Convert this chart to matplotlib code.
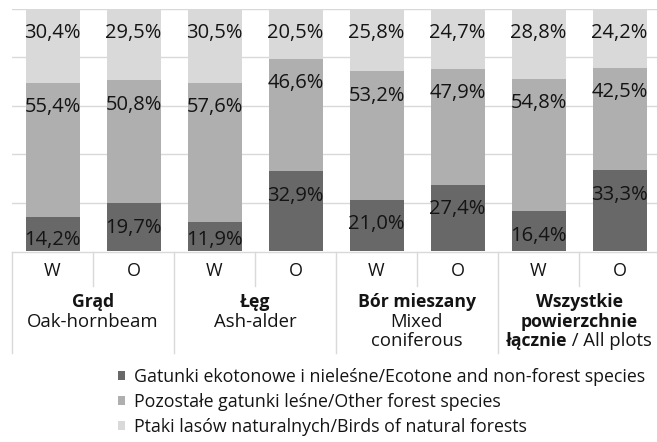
import matplotlib
matplotlib.use('Agg')
import matplotlib.pyplot as plt
from matplotlib.transforms import blended_transform_factory

# ---- data ----
sub_labels = ['W', 'O', 'W', 'O', 'W', 'O', 'W', 'O']
group_lines = [
    [('Grąd', 'bold'), ('Oak-hornbeam', 'normal')],
    [('Łęg', 'bold'), ('Ash-alder', 'normal')],
    [('Bór mieszany', 'bold'), ('Mixed', 'normal'), ('coniferous', 'normal')],
    [('Wszystkie', 'bold'), ('powierzchnie', 'bold'), ('łącznie', 'bold', ' / All plots')],
]
ecotone = [14.2, 19.7, 11.9, 32.9, 21.0, 27.4, 16.4, 33.3]
other_forest = [55.4, 50.8, 57.6, 46.6, 53.2, 47.9, 54.8, 42.5]
natural = [30.4, 29.5, 30.5, 20.5, 25.8, 24.7, 28.8, 24.2]
series_names = [
    'Gatunki ekotonowe i nieleśne/Ecotone and non-forest species',
    'Pozostałe gatunki leśne/Other forest species',
    'Ptaki lasów naturalnych/Birds of natural forests',
]
colors = ['#686868', '#afafaf', '#d9d9d9']

plt.rcParams['font.family'] = ['Open Sans', 'DejaVu Sans']
TXT = '#141414'
FS_LAB = 14.5
FS_BOLD = 12.7
FS_NORM = 13.3
FS_LEG = 12.8
W, H = 657, 442

fig = plt.figure(figsize=(W / 100, H / 100), dpi=100)
ax = fig.add_axes([12 / W, (H - 251) / H, 648 / W, 242 / H])
ax.set_xlim(-0.5, 7.5)
ax.set_ylim(0, 100)
ax.axis('off')

for yv in [20, 40, 60, 80, 100]:
    ax.axhline(yv, color='#d9d9d9', lw=1, zorder=0)

x = list(range(len(sub_labels)))
bw = 54 / 81
bottoms = [0.0] * len(x)
handles = []
for vals, col, name in zip([ecotone, other_forest, natural], colors, series_names):
    bars = ax.bar(x, vals, bw, bottom=bottoms, color=col, label=name, zorder=2)
    handles.append(bars)
    for xi, v, b in zip(x, vals, bottoms):
        top = b + v
        ylab = max(top - 10.0, 4.5)
        ax.text(xi, ylab, f'{v:.1f}%'.replace('.', ','), ha='center', va='center',
                fontsize=FS_LAB, color=TXT, zorder=3)
    bottoms = [b + v for b, v in zip(bottoms, vals)]

# ---- category table below axis ----
tr = blended_transform_factory(ax.transData, fig.transFigure)
fy = lambda py: (H - py) / H
line_col = '#d9d9d9'
ax.plot([-0.5, 8], [fy(251.5), fy(251.5)], transform=tr, color=line_col, lw=1, clip_on=False)
for k in range(0, 9):
    xb = k - 0.5
    ybot = 353 if k % 2 == 0 else 286
    ax.plot([xb, xb], [fy(251.5), fy(ybot)], transform=tr, color=line_col, lw=1, clip_on=False)

for xi, lab in zip(x, sub_labels):
    ax.text(xi, fy(271), lab, transform=tr, ha='center', va='center', fontsize=13, color=TXT)

fig.canvas.draw()
renderer = fig.canvas.get_renderer()
px_per_unit = 648 / 8
line_y = [302, 322, 341]
fsz = lambda w: FS_BOLD if w == 'bold' else FS_NORM
for gi, lines in enumerate(group_lines):
    gc = 2 * gi + 0.5
    for li, item in enumerate(lines):
        if len(item) == 2:
            ax.text(gc, fy(line_y[li]), item[0], transform=tr, ha='center', va='center',
                    fontsize=fsz(item[1]), fontweight=item[1], color=TXT)
        else:
            t1 = ax.text(0, fy(line_y[li]), item[0], transform=tr, ha='left', va='center',
                         fontsize=fsz(item[1]), fontweight=item[1], color=TXT)
            t2 = ax.text(0, fy(line_y[li]), item[2], transform=tr, ha='left', va='center',
                         fontsize=FS_NORM, fontweight='normal', color=TXT)
            w1 = t1.get_window_extent(renderer).width
            w2 = t2.get_window_extent(renderer).width
            start = gc - (w1 + w2) / 2 / px_per_unit
            t1.set_x(start)
            t2.set_x(start + w1 / px_per_unit)

leg = fig.legend(handles=handles, labels=series_names, loc='upper left',
                 bbox_to_anchor=(118 / W, fy(368)), frameon=False, fontsize=FS_LEG,
                 handlelength=0.4, handleheight=0.4, handletextpad=0.5,
                 labelspacing=0.38, borderpad=0, borderaxespad=0)
for t in leg.get_texts():
    t.set_color(TXT)

fig.savefig('out.png', dpi=100)
